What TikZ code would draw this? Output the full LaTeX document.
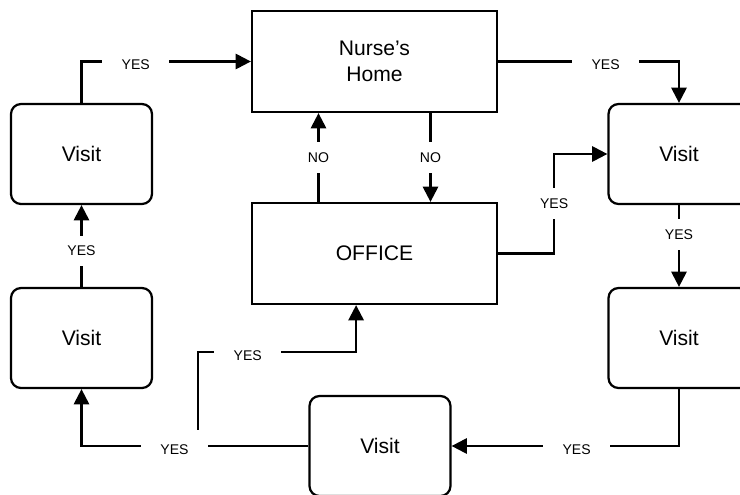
\documentclass[tikz,border=0pt]{standalone}
\usepackage{fontspec}
\setmainfont{Liberation Sans}
\usetikzlibrary{arrows.meta}
\tikzstyle{place} = [rectangle, minimum width=6.125cm, minimum height=2.525cm, text centered, align=center, draw=black, line width=1.6pt]
\tikzstyle{visit} = [rectangle, rounded corners=0.25cm, minimum width=3.525cm, minimum height=2.5cm, text centered, draw=black, line width=1.6pt]
\tikzstyle{arrow} = [line width=1.6pt,-{Triangle[length=0.38cm,width=0.38cm]}]
\tikzstyle{answer} = [fill=white, inner xsep=0.49cm, inner ysep=0.26cm, font=\fontsize{10}{12}\selectfont]
\tikzstyle{answerlow} = [answer, yshift=-0.09cm]

\begin{document}
\begin{tikzpicture}[node distance=2cm, font=\fontsize{15}{18}\selectfont]
\useasboundingbox (-9.3625,1.5375) rectangle (9.1375,-10.8125);

% Nodes
\node (home) [place] {Nurse’s\\Home};
\node (office) [place, below of=home, yshift=-2.8cm] {OFFICE};
\node (visitA) [visit, left of=home, xshift=-5.325cm, yshift=-2.3125cm] {Visit};
\node (visitB) [visit, below of=visitA, yshift=-2.6cm] {Visit};
\node (visitC) [visit, right of=home, xshift=5.6125cm, yshift=-2.3125cm] {Visit};
\node (visitD) [visit, below of=visitC, yshift=-2.6cm] {Visit};
\node (visitE) [visit, below of=office, xshift=0.1375cm, yshift=-2.8125cm] {Visit};

% Arrows
\draw [arrow] (visitA.north) |- node[answerlow, pos=0.66] {YES} (home.west);
\draw [arrow] (home.east) -| node[answerlow, pos=0.297] {YES} (visitC.north);
\draw [arrow] ([xshift=1.4cm]home.south) -- node[answer] {NO} ([xshift=1.4cm]office.north);
\draw [arrow] ([xshift=-1.4cm]office.north) -- node[answer] {NO} ([xshift=-1.4cm]home.south);
\draw [arrow] (office.east) -- ++(1.4cm,0) |- node[answer, pos=0.25] {YES} (visitC.west);
\draw [arrow] (visitC.south) -- node[answer, pos=0.36] {YES} (visitD.north);
\draw [arrow] (visitD.south) |- node[answerlow, pos=0.725] {YES} (visitE.east);
\draw [arrow] (visitE.west) -| node (yesLow) [answerlow, pos=0.295] {YES} (visitB.south);
\draw [arrow] ([xshift=0.58cm, yshift=0.09cm]yesLow.north) |- node[answerlow, pos=0.658] {YES} ([xshift=-0.46cm, yshift=-1.18cm]office.south) -- ([xshift=-0.46cm]office.south);
\draw [arrow] (visitB.north) -- node[answer, pos=0.44] {YES} (visitA.south);

\end{tikzpicture}
\end{document}
